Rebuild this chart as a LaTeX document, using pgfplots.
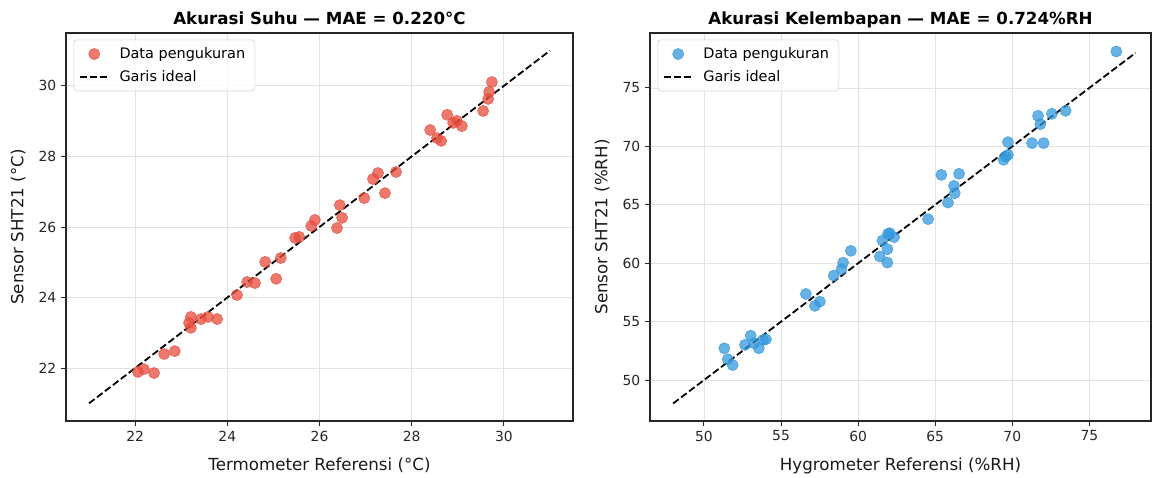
\documentclass[border=0pt]{standalone}
\usepackage{fontspec}
\setmainfont{DejaVu Sans}
\usepackage{pgfplots}
\pgfplotsset{compat=1.18}
\definecolor{cred}{HTML}{E74C3C}
\definecolor{cblue}{HTML}{3498DB}

\pgfplotstableread{
x y
22.06 21.89
22.19 21.97
22.41 21.86
22.63 22.40
22.86 22.48
23.17 23.28
23.21 23.45
23.21 23.14
23.43 23.39
23.58 23.45
23.78 23.39
24.21 24.07
24.43 24.44
24.60 24.41
24.82 25.01
25.06 24.53
25.16 25.12
25.47 25.69
25.56 25.72
25.82 26.03
25.90 26.20
26.38 25.97
26.44 26.62
26.49 26.26
26.97 26.82
27.16 27.36
27.27 27.53
27.42 26.96
27.66 27.56
28.40 28.75
28.55 28.52
28.64 28.44
28.77 29.18
28.90 28.95
28.98 29.01
29.09 28.86
29.55 29.29
29.66 29.63
29.68 29.83
29.74 30.11
}\suhu

\pgfplotstableread{
x y
51.32 52.72
51.54 51.78
51.86 51.29
52.66 53.01
53.03 53.80
53.24 53.15
53.56 52.72
53.84 53.43
54.02 53.49
56.61 57.37
57.20 56.35
57.52 56.71
58.42 58.94
58.92 59.49
59.03 60.05
59.53 61.06
61.41 60.57
61.58 61.94
61.90 61.20
61.90 60.05
61.94 62.51
62.05 62.57
62.33 62.23
64.54 63.77
65.40 67.56
65.83 65.19
66.22 66.62
66.27 65.99
66.55 67.65
69.44 68.85
69.57 69.13
69.72 69.27
69.72 70.36
71.28 70.28
72.03 70.28
71.82 71.90
71.67 72.61
72.57 72.78
73.46 73.04
76.75 78.12
}\lembab

\pgfplotsset{
  mystyle/.style={
    scale only axis, anchor=south west,
    height=279.36pt,
    tick align=outside, tick pos=left,
    major tick length=3.5pt,
    grid=major, major grid style={black!11, line width=0.6pt},
    axis line style={line width=0.9pt, black!85},
    tick style={black!85, line width=0.7pt},
    ticklabel style={font=\fontsize{10}{12}\selectfont, text=black!85},
    label style={font=\fontsize{12}{14}\selectfont, text=black!90},
    xlabel shift=5pt, ylabel shift=2.5pt,
    title style={font=\bfseries\fontsize{12}{14}\selectfont, at={(0.5,1)}, anchor=base, yshift=0pt},
    /pgf/number format/assume math mode=true,
    legend cell align=left,
    legend style={at={(0.015,0.983)}, anchor=north west, draw=black!18,
      rounded corners=2.5pt, fill=white, fill opacity=0.85, text opacity=1,
      font=\fontsize{10.4}{12.5}\selectfont, row sep=3pt, inner sep=3.5pt,
      nodes={inner xsep=3.5pt},
      /tikz/every odd column/.append style={column sep=3.5pt}},
    clip=false,
  },
  scat/.style={only marks, mark=*, mark size=4pt,
    mark options={fill=#1, draw=#1, fill opacity=0.75, draw opacity=0.85},
    legend image code/.code={\draw[mark repeat=2, mark phase=2, ##1] plot coordinates {(0cm,0cm) (0.37cm,0cm) (0.74cm,0cm)};}},
  ideal/.style={black, line width=1.3pt, dash pattern=on 5pt off 2.2pt,
    legend image code/.code={\draw[##1] (0cm,0cm) -- (0.74cm,0cm);}},
}

\begin{document}
\begin{tikzpicture}[x=0.72pt,y=0.72pt]
\useasboundingbox (0,0) rectangle (1153,478);
\begin{axis}[mystyle, at={(47.52pt,41.04pt)}, width=365.04pt,
  xmin=20.5, xmax=31.5, ymin=20.5, ymax=31.5,
  xtick={22,24,26,28,30}, ytick={22,24,26,28,30},
  title={Akurasi Suhu — MAE = 0.220°C},
  xlabel={Termometer Referensi (°C)}, ylabel={Sensor SHT21 (°C)}]
\addplot[scat=cred] table[x=x,y=y] {\suhu};
\addlegendentry{Data pengukuran}
\addplot[ideal] coordinates {(21,21) (31,31)};
\addlegendentry{Garis ideal}
\end{axis}
\begin{axis}[mystyle, at={(468pt,41.04pt)}, width=360.72pt,
  xmin=46.5, xmax=79.0, ymin=46.5, ymax=79.7,
  xtick={50,55,60,65,70,75}, ytick={50,55,60,65,70,75},
  title={Akurasi Kelembapan — MAE = 0.724\%RH},
  xlabel={Hygrometer Referensi (\%RH)}, ylabel={Sensor SHT21 (\%RH)}]
\addplot[scat=cblue] table[x=x,y=y] {\lembab};
\addlegendentry{Data pengukuran}
\addplot[ideal] coordinates {(48,48) (78,78)};
\addlegendentry{Garis ideal}
\end{axis}
\end{tikzpicture}
\end{document}
